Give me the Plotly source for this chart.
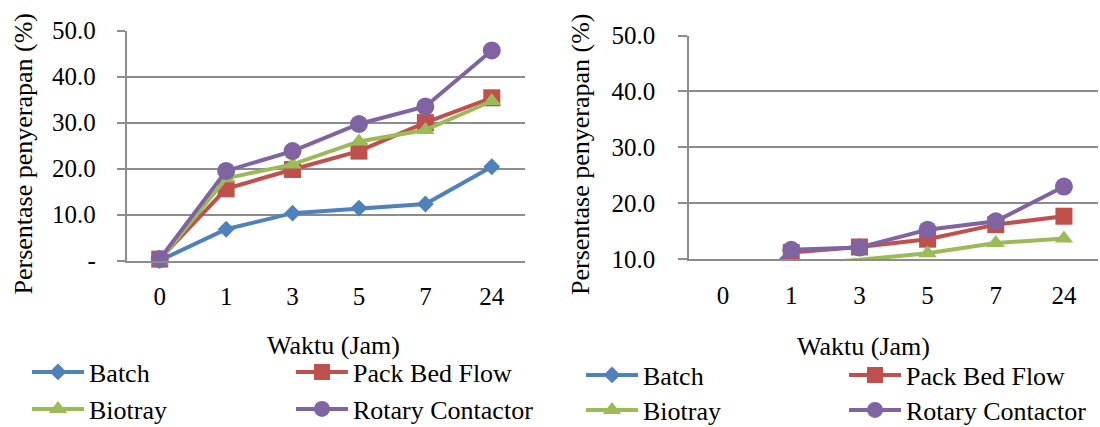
import plotly.graph_objects as go

categories = ["0", "1", "3", "5", "7", "24"]
series_names = ["Batch", "Pack Bed Flow", "Biotray", "Rotary Contactor"]

# Left chart values (%)
left_batch = [0.0, 6.8, 10.3, 11.4, 12.3, 20.4]
left_pack = [0.3, 15.6, 19.8, 23.8, 30.0, 35.4]
left_biotray = [0.0, 17.9, 20.9, 25.9, 28.4, 34.7]
left_rotary = [0.3, 19.5, 23.8, 29.7, 33.5, 45.7]

# Right chart values (%) (values below 10 fall outside the visible axis)
right_batch = [None, None, None, None, None, None]
right_pack = [0.0, 11.2, 12.2, 13.6, 16.2, 17.7]
right_biotray = [0.0, 9.0, 9.9, 11.1, 12.9, 13.7]
right_rotary = [0.0, 11.7, 12.1, 15.3, 16.8, 23.0]

left_yticks = [0, 10, 20, 30, 40, 50]
left_yticktext = ["-", "10.0", "20.0", "30.0", "40.0", "50.0"]
right_yticks = [10, 20, 30, 40, 50]
right_yticktext = ["10.0", "20.0", "30.0", "40.0", "50.0"]

colors = ["#4F81BD", "#C0504D", "#9BBB59", "#8064A2"]
symbols = ["diamond", "square", "triangle-up", "circle"]
msizes = [13, 17, 16, 18]

FONT = "Times New Roman, Liberation Serif, DejaVu Serif, serif"
GRID = "#8C8C8C"
W, H = 1100, 427

fig = go.Figure()

left_data = [left_batch, left_pack, left_biotray, left_rotary]
right_data = [right_batch, right_pack, right_biotray, right_rotary]
left_legends = ["legend", "legend2", "legend3", "legend4"]
right_legends = ["legend5", "legend6", "legend7", "legend8"]

for i, name in enumerate(series_names):
    fig.add_trace(go.Scatter(
        x=categories, y=left_data[i], name=name, mode="lines+markers",
        xaxis="x", yaxis="y", legend=left_legends[i], cliponaxis=False,
        showlegend=True,
        line=dict(color=colors[i], width=4),
        marker=dict(symbol=symbols[i], size=msizes[i], color=colors[i]),
    ))
for i, name in enumerate(series_names):
    fig.add_trace(go.Scatter(
        x=categories, y=right_data[i], name=name, mode="lines+markers",
        xaxis="x2", yaxis="y2", legend=right_legends[i], cliponaxis=False,
        showlegend=True,
        line=dict(color=colors[i], width=4),
        marker=dict(symbol=symbols[i], size=msizes[i], color=colors[i]),
    ))

def px_x(p):
    return p / W

def px_y(p):
    return 1 - p / H

tickfont = dict(family=FONT, size=25, color="black")

fig.update_layout(
    width=W, height=H,
    showlegend=True,
    margin=dict(l=0, r=0, t=0, b=0, autoexpand=False),
    paper_bgcolor="white", plot_bgcolor="white",
    font=dict(family=FONT, size=25, color="black"),
    xaxis=dict(type="category", domain=[px_x(126.5), px_x(525)], anchor="y",
               range=[-0.5, 5.5], showgrid=False, showline=True, linecolor=GRID,
               linewidth=1.5, ticks="", tickfont=tickfont, ticklabelstandoff=13,
               fixedrange=True, automargin=False),
    yaxis=dict(domain=[px_y(260.5), px_y(30.7)], anchor="x", range=[0, 50],
               tickvals=left_yticks, ticktext=left_yticktext,
               showgrid=True, gridcolor=GRID, gridwidth=1.5, zeroline=False,
               showline=True, linecolor=GRID, linewidth=1.5,
               ticks="outside", ticklen=8, tickcolor=GRID, tickwidth=1.5,
               tickfont=tickfont, ticklabelstandoff=16, fixedrange=True,
               automargin=False),
    xaxis2=dict(type="category", domain=[px_x(689), px_x(1098)], anchor="y2",
                range=[-0.5, 5.5], showgrid=False, showline=True, linecolor=GRID,
                linewidth=1.5, ticks="", tickfont=tickfont, ticklabelstandoff=13,
                fixedrange=True, automargin=False),
    yaxis2=dict(domain=[px_y(259.3), px_y(35.5)], anchor="x2", range=[10, 50],
                tickvals=right_yticks, ticktext=right_yticktext,
                showgrid=True, gridcolor=GRID, gridwidth=1.5, zeroline=False,
                showline=True, linecolor=GRID, linewidth=1.5,
                ticks="outside", ticklen=9, tickcolor=GRID, tickwidth=1.5,
                tickfont=tickfont, ticklabelstandoff=18, fixedrange=True,
                automargin=False),
)

# Legend positions: (x of item origin px, y center px)
legend_pos = {
    "legend": (27, 372), "legend2": (291, 372), "legend3": (27, 409), "legend4": (291, 409),
    "legend5": (581, 375), "legend6": (844, 375), "legend7": (581, 410), "legend8": (844, 410),
}
for key, (lx, ly) in legend_pos.items():
    fig.update_layout({key: dict(
        x=px_x(lx), y=px_y(ly), xanchor="left", yanchor="middle",
        orientation="h", bgcolor="rgba(0,0,0,0)", borderwidth=0,
        itemwidth=52, font=dict(family=FONT, size=26, color="black"),
        itemclick=False, itemdoubleclick=False, visible=True,
    )})

# Axis titles
ann_font = dict(family=FONT, size=26, color="black")
fig.add_annotation(text="Persentase penyerapan (%)", textangle=-90,
                   x=px_x(23.5), y=px_y(154), xref="paper", yref="paper",
                   showarrow=False, font=ann_font, xanchor="center", yanchor="middle")
fig.add_annotation(text="Persentase penyerapan (%)", textangle=-90,
                   x=px_x(581), y=px_y(154), xref="paper", yref="paper",
                   showarrow=False, font=ann_font, xanchor="center", yanchor="middle")
fig.add_annotation(text="Waktu (Jam)", x=px_x(333), y=px_y(345), xref="paper", yref="paper",
                   showarrow=False, font=ann_font, xanchor="center", yanchor="middle")
fig.add_annotation(text="Waktu (Jam)", x=px_x(863), y=px_y(346), xref="paper", yref="paper",
                   showarrow=False, font=ann_font, xanchor="center", yanchor="middle")

fig.write_html("out.html", config={"displayModeBar": False})
